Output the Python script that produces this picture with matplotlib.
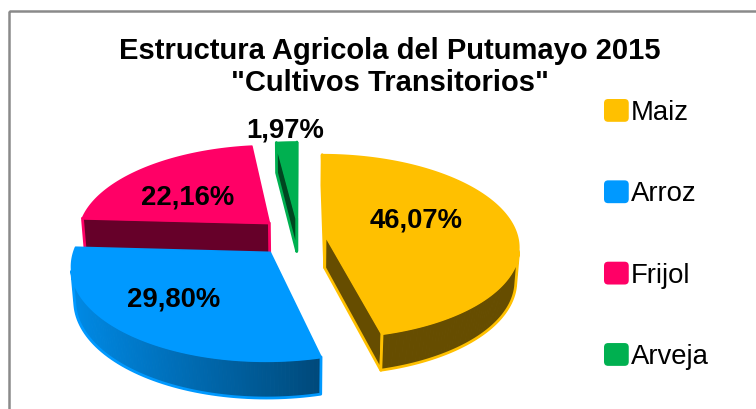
import numpy as np
import matplotlib
matplotlib.use("Agg")
import matplotlib.pyplot as plt
from matplotlib.patches import Polygon, Rectangle, Patch, FancyBboxPatch
from matplotlib.legend_handler import HandlerPatch

# Datos
cultivos = ["Maiz", "Arroz", "Frijol", "Arveja"]
porcentajes = [46.07, 29.80, 22.16, 1.97]
colores = ["#FFC000", "#0099FF", "#FF0066", "#00B050"]
titulo = 'Estructura Agricola del Putumayo 2015\n"Cultivos Transitorios"'

plt.rcParams["font.family"] = ["Liberation Sans", "DejaVu Sans"]

# camara simple en perspectiva (coordenadas en pixeles)
F = 1345.0
D = 7.0
PHI = np.radians(28)
CX, CY = 299.0, 236.0
H = 0.2
CAM = np.array([0.0, -D * np.cos(PHI), D * np.sin(PHI)])
separacion = [0.137, 0.23, 0.215, 0.2]
# degradado del borde lateral (izquierda, derecha)
degradado = [(0.4, 0.4), (0.9, 0.48), (0.4, 0.4), (0.35, 0.35)]
# posicion de etiquetas: (radio, giro en grados respecto al centro de la rebanada)
pos_etiqueta = [(0.51, -11), (0.65, 4.5), (0.55, -9), (1.18, 0)]


def proyectar(x, y, z):
    prof = D + y * np.cos(PHI) - z * np.sin(PHI)
    sx = CX + F * x / prof
    sy = CY - F * (y * np.sin(PHI) + z * np.cos(PHI)) / prof
    return sx, sy


def sombra(color, f):
    rgb = np.array(matplotlib.colors.to_rgb(color))
    return tuple(np.clip(rgb * f, 0, 1))


def visible(normal, punto):
    return np.dot(normal, CAM - punto) > 0


def rounded(legend, orig_handle, xdescent, ydescent, width, height, fontsize):
    return FancyBboxPatch((-xdescent, -ydescent), width, height,
                          boxstyle="round,pad=0,rounding_size=3")


fig = plt.figure(figsize=(7.56, 4.09), dpi=100)
ax = fig.add_axes([0, 0, 1, 1])
ax.set_xlim(0, 756)
ax.set_ylim(409, 0)
ax.axis("off")

# marco del grafico
ax.add_patch(Rectangle((9, 11), 800, 500, fill=False, edgecolor="#8a8a8a", lw=1.8))

fin = np.cumsum(porcentajes) * 3.6
inicio = fin - np.array(porcentajes) * 3.6
rebanadas = []
for i in range(len(cultivos)):
    a, b = np.radians(inicio[i]), np.radians(fin[i])
    mid = (a + b) / 2
    o = separacion[i] * np.array([np.sin(mid), np.cos(mid)])
    rebanadas.append((i, a, b, mid, o))

# de atras hacia adelante
rebanadas.sort(key=lambda r: -r[4][1])

for i, a, b, mid, o in rebanadas:
    base = colores[i]
    th = np.linspace(a, b, max(3, int(np.degrees(b - a))))
    ox, oy = o
    caras = []
    tira = []
    for t1, t2 in zip(th[:-1], th[1:]):
        tm = (t1 + t2) / 2
        n = np.array([np.sin(tm), np.cos(tm), 0.0])
        p = np.array([ox + np.sin(tm), oy + np.cos(tm), -H / 2])
        if visible(n, p):
            v = [proyectar(ox + np.sin(t1), oy + np.cos(t1), 0),
                 proyectar(ox + np.sin(t2), oy + np.cos(t2), 0),
                 proyectar(ox + np.sin(t2), oy + np.cos(t2), -H),
                 proyectar(ox + np.sin(t1), oy + np.cos(t1), -H)]
            tira.append((p[1], v))
    if tira:
        xs = [np.mean([q[0] for q in v]) for _, v in tira]
        x0, x1 = min(xs), max(xs)
        izq, der = degradado[i]
        for (prof, v), xm in zip(tira, xs):
            s = (xm - x0) / (x1 - x0) if x1 > x0 else 0
            caras.append((prof, v, sombra(base, izq + (der - izq) * s), False))
    for ang, n in [(a, np.array([-np.cos(a), np.sin(a), 0.0])),
                   (b, np.array([np.cos(b), -np.sin(b), 0.0]))]:
        p = np.array([ox + 0.5 * np.sin(ang), oy + 0.5 * np.cos(ang), -H / 2])
        if visible(n, p):
            v = [proyectar(ox, oy, 0),
                 proyectar(ox + np.sin(ang), oy + np.cos(ang), 0),
                 proyectar(ox + np.sin(ang), oy + np.cos(ang), -H),
                 proyectar(ox, oy, -H)]
            caras.append((p[1], v, sombra(base, 0.4), True))
    caras.sort(key=lambda c: -c[0])
    for _, v, col, borde in caras:
        ax.add_patch(Polygon(v, closed=True, facecolor=col,
                             edgecolor=base if borde else col,
                             lw=2.0 if borde else 0.8, joinstyle="round"))
    if tira:
        t_vis = [t for t in th if visible(np.array([np.sin(t), np.cos(t), 0.0]),
                                          np.array([ox + np.sin(t), oy + np.cos(t), -H / 2]))]
        ts = np.linspace(min(t_vis), max(t_vis), 60)
        arriba = [proyectar(ox + np.sin(t), oy + np.cos(t), 0) for t in ts]
        abajo = [proyectar(ox + np.sin(t), oy + np.cos(t), -H) for t in ts[::-1]]
        ax.add_patch(Polygon(arriba + abajo, closed=True, fill=False,
                             edgecolor=base, lw=2.0, joinstyle="round"))
    # cara superior
    tapa = [proyectar(ox, oy, 0)] + [proyectar(ox + np.sin(t), oy + np.cos(t), 0) for t in th]
    ax.add_patch(Polygon(tapa, closed=True, facecolor=base, edgecolor=base,
                         lw=1.2, joinstyle="round"))

# etiquetas
for i, a, b, mid, o in rebanadas:
    r, giro = pos_etiqueta[i]
    ang = mid + np.radians(giro)
    x, y = proyectar(o[0] + r * np.sin(ang), o[1] + r * np.cos(ang), 0)
    texto = f"{porcentajes[i]:.2f}%".replace(".", ",")
    ax.text(x, y, texto, ha="center", va="center", fontsize=19.8,
            fontweight="bold", color="black")

fig.text(389.5 / 756, 1 - 67 / 409, titulo, ha="center", va="center",
         fontsize=21, fontweight="bold", linespacing=1.14)

handles = [Patch(facecolor=c) for c in colores]
ax.legend(handles, cultivos, loc="upper left", bbox_to_anchor=(604, 99),
          bbox_transform=ax.transData, frameon=False, fontsize=19.8,
          handlelength=0.9, handleheight=0.9, handletextpad=0.08,
          labelspacing=1.98, borderpad=0, borderaxespad=0,
          handler_map={Patch: HandlerPatch(patch_func=rounded)})

fig.savefig("out.png", dpi=100)
